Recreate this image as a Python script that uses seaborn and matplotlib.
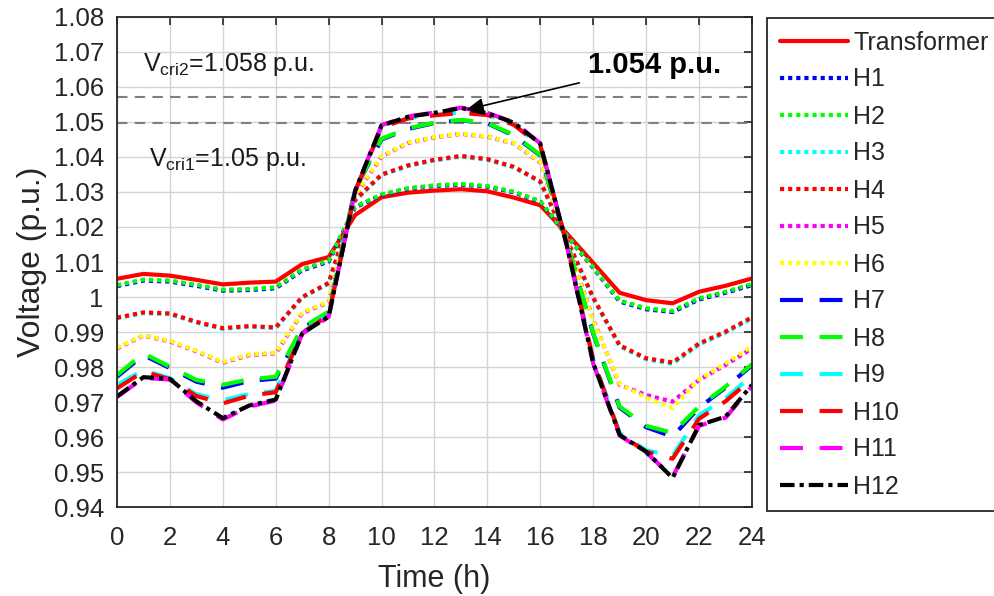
import matplotlib
matplotlib.use("Agg")
import matplotlib.pyplot as plt
import pandas as pd
import seaborn as sns

# Hourly voltage profiles (p.u.)
hours = list(range(25))

transformer = [1.0052, 1.0066, 1.0061, 1.0049, 1.0036, 1.0041, 1.0044, 1.0094, 1.0114,
               1.0234, 1.0285, 1.0298, 1.0304, 1.0308, 1.0302, 1.0284, 1.0262, 1.0182,
               1.0097, 1.0012, 0.9991, 0.9982, 1.0015, 1.0032, 1.0053]
h1 = [1.0031, 1.0047, 1.0044, 1.0032, 1.0018, 1.0020, 1.0025, 1.0076, 1.0101,
      1.0256, 1.0291, 1.0309, 1.0317, 1.0321, 1.0315, 1.0299, 1.0272, 1.0175,
      1.0083, 0.9987, 0.9965, 0.9957, 0.9993, 1.0012, 1.0034]
h2 = [1.0034, 1.0050, 1.0047, 1.0035, 1.0021, 1.0023, 1.0028, 1.0079, 1.0104,
      1.0258, 1.0293, 1.0311, 1.0319, 1.0323, 1.0317, 1.0301, 1.0274, 1.0176,
      1.0085, 0.9990, 0.9968, 0.9960, 0.9996, 1.0015, 1.0037]
h3 = [0.9939, 0.9954, 0.9951, 0.9927, 0.9909, 0.9915, 0.9911, 0.9998, 1.0038,
      1.0275, 1.0348, 1.0374, 1.0390, 1.0401, 1.0392, 1.0370, 1.0328, 1.0164,
      0.9996, 0.9859, 0.9822, 0.9809, 0.9864, 0.9898, 0.9939]
h4 = [0.9941, 0.9956, 0.9953, 0.9929, 0.9911, 0.9917, 0.9913, 1.0000, 1.0040,
      1.0277, 1.0350, 1.0376, 1.0392, 1.0403, 1.0394, 1.0372, 1.0330, 1.0165,
      0.9998, 0.9862, 0.9825, 0.9813, 0.9867, 0.9901, 0.9942]
h5 = [0.9853, 0.9890, 0.9873, 0.9845, 0.9812, 0.9834, 0.9839, 0.9954, 0.9985,
      1.0290, 1.0401, 1.0440, 1.0456, 1.0466, 1.0458, 1.0439, 1.0384, 1.0160,
      0.9935, 0.9749, 0.9720, 0.9701, 0.9763, 0.9806, 0.9853]
h6 = [0.9855, 0.9891, 0.9875, 0.9847, 0.9814, 0.9836, 0.9841, 0.9956, 0.9987,
      1.0292, 1.0402, 1.0441, 1.0457, 1.0467, 1.0459, 1.0440, 1.0386, 1.0158,
      0.9932, 0.9752, 0.9712, 0.9683, 0.9765, 0.9810, 0.9860]
h7 = [0.9772, 0.9834, 0.9797, 0.9758, 0.9741, 0.9760, 0.9767, 0.9910, 0.9956,
      1.0308, 1.0450, 1.0480, 1.0497, 1.0505, 1.0496, 1.0461, 1.0404, 1.0156,
      0.9895, 0.9684, 0.9628, 0.9601, 0.9684, 0.9741, 0.9805]
h8 = [0.9777, 0.9839, 0.9801, 0.9763, 0.9749, 0.9765, 0.9772, 0.9913, 0.9958,
      1.0310, 1.0452, 1.0482, 1.0498, 1.0506, 1.0497, 1.0463, 1.0406, 1.0158,
      0.9897, 0.9687, 0.9632, 0.9612, 0.9687, 0.9744, 0.9808]
h9 = [0.9749, 0.9791, 0.9768, 0.9722, 0.9705, 0.9723, 0.9732, 0.9899, 0.9950,
      1.0303, 1.0486, 1.0511, 1.0520, 1.0527, 1.0521, 1.0493, 1.0433, 1.0153,
      0.9823, 0.9612, 0.9562, 0.9546, 0.9662, 0.9710, 0.9776]
h10 = [0.9739, 0.9787, 0.9765, 0.9717, 0.9696, 0.9718, 0.9728, 0.9897, 0.9948,
       1.0302, 1.0485, 1.0510, 1.0519, 1.0526, 1.0520, 1.0492, 1.0432, 1.0152,
       0.9820, 0.9608, 0.9558, 0.9538, 0.9652, 0.9702, 0.9766]
h11 = [0.9714, 0.9769, 0.9764, 0.9699, 0.9650, 0.9687, 0.9704, 0.9895, 0.9943,
       1.0304, 1.0491, 1.0516, 1.0527, 1.0541, 1.0526, 1.0499, 1.0439, 1.0147,
       0.9810, 0.9604, 0.9556, 0.9486, 0.9632, 0.9655, 0.9745]
h12 = [0.9716, 0.9771, 0.9766, 0.9702, 0.9654, 0.9690, 0.9707, 0.9896, 0.9944,
       1.0303, 1.0490, 1.0515, 1.0526, 1.0540, 1.0525, 1.0498, 1.0438, 1.0148,
       0.9811, 0.9606, 0.9558, 0.9483, 0.9634, 0.9658, 0.9749]

series_names = ["Transformer"] + [f"H{i}" for i in range(1, 13)]
series_values = [transformer, h1, h2, h3, h4, h5, h6, h7, h8, h9, h10, h11, h12]

# Critical voltage thresholds drawn as reference lines
v_cri1 = 1.0496
v_cri2 = 1.0571
peak_label = "1.054 p.u."
peak_hour = 13
peak_value = 1.054

y_ticks = [round(0.94 + 0.01 * k, 2) for k in range(15)]
y_tick_labels = ["1" if abs(v - 1) < 1e-9 else f"{v:g}" for v in y_ticks]
x_ticks = list(range(0, 25, 2))

colors = ["#ff0000", "#0000ff", "#00ff00", "#00ffff", "#ff0000", "#ff00ff", "#ffff00",
          "#0000ff", "#00ff00", "#00ffff", "#ff0000", "#ff00ff", "#000000"]
dotted = (0, (1.0, 0.95))
dashed = (0, (5.5, 4.0))
dashdot = (0, (3.5, 1.2, 1.0, 1.2))
styles = ["-"] + [dotted] * 6 + [dashed] * 5 + [dashdot]

sns.set_theme(style="white")
plt.rcParams["font.family"] = ["Liberation Sans", "DejaVu Sans"]
plt.rcParams["mathtext.fontset"] = "custom"
plt.rcParams["mathtext.rm"] = "Liberation Sans"
plt.rcParams["mathtext.it"] = "Liberation Sans:italic"

df = pd.DataFrame({"Time": hours})
for name, vals in zip(series_names, series_values):
    df[name] = vals
long_df = df.melt(id_vars="Time", var_name="Series", value_name="Voltage")

fig = plt.figure(figsize=(9.94, 5.96), dpi=100)
ax = fig.add_axes([0.1177, 0.1493, 0.6388, 0.8222])

handles = []
for name, col, ls in zip(series_names, colors, styles):
    sub = long_df[long_df["Series"] == name]
    sns.lineplot(data=sub, x="Time", y="Voltage", ax=ax, color=col, linewidth=3.0,
                 linestyle=ls, label=name, legend=False)
    handles.append(ax.lines[-1])

ax.axhline(v_cri2, color="#808080", lw=1.5, linestyle=(0, (5, 3.5)), zorder=1)
ax.axhline(v_cri1, color="#808080", lw=1.5, linestyle=(0, (5, 3.5)), zorder=1)

ax.set_xlim(0, 24)
ax.set_ylim(0.94, 1.08)
ax.set_xticks(x_ticks)
ax.set_yticks(y_ticks)
ax.set_yticklabels(y_tick_labels)
ax.grid(True, color="#d4d4d4", lw=1.0)
ax.set_axisbelow(True)
ax.tick_params(direction="in", length=6, width=1.2, colors="#262626", labelsize=18.5,
               top=True, right=True, labelcolor="#262626")
ax.tick_params(axis="x", pad=14)
ax.tick_params(axis="y", pad=9.5)
for sp in ax.spines.values():
    sp.set_color("#262626")
    sp.set_linewidth(1.3)

ax.set_xlabel("Time (h)", fontsize=22, color="#262626", labelpad=10)
ax.set_ylabel("Voltage (p.u.)", fontsize=23, color="#262626", labelpad=5)

ax.text(1.0, 1.0663, r"V$_{\mathrm{cri2}}$=1.058 p.u.", fontsize=18, va="center",
        ha="left", color="#1a1a1a")
ax.text(1.2, 1.0393, r"V$_{\mathrm{cri1}}$=1.05 p.u.", fontsize=18, va="center",
        ha="left", color="#1a1a1a")
ax.annotate(peak_label, xy=(peak_hour + 0.2, peak_value - 0.0005),
            xytext=(17.8, 1.0663), fontsize=21, fontweight="bold", va="center",
            ha="left", color="black",
            arrowprops=dict(arrowstyle="-|>,head_length=0.5,head_width=0.22",
                            color="black", lw=1.2, shrinkA=4, shrinkB=0))

leg = fig.legend(handles, series_names, loc="upper left",
                 bbox_to_anchor=(767 / 994, 1 - 18 / 596), fontsize=18,
                 handlelength=2.75, handletextpad=0.2, labelspacing=0.52,
                 borderpad=0.5, borderaxespad=0, frameon=True, fancybox=False,
                 edgecolor="#262626", framealpha=1)
leg.get_frame().set_linewidth(1.3)

fig.savefig("out.png", dpi=100)
